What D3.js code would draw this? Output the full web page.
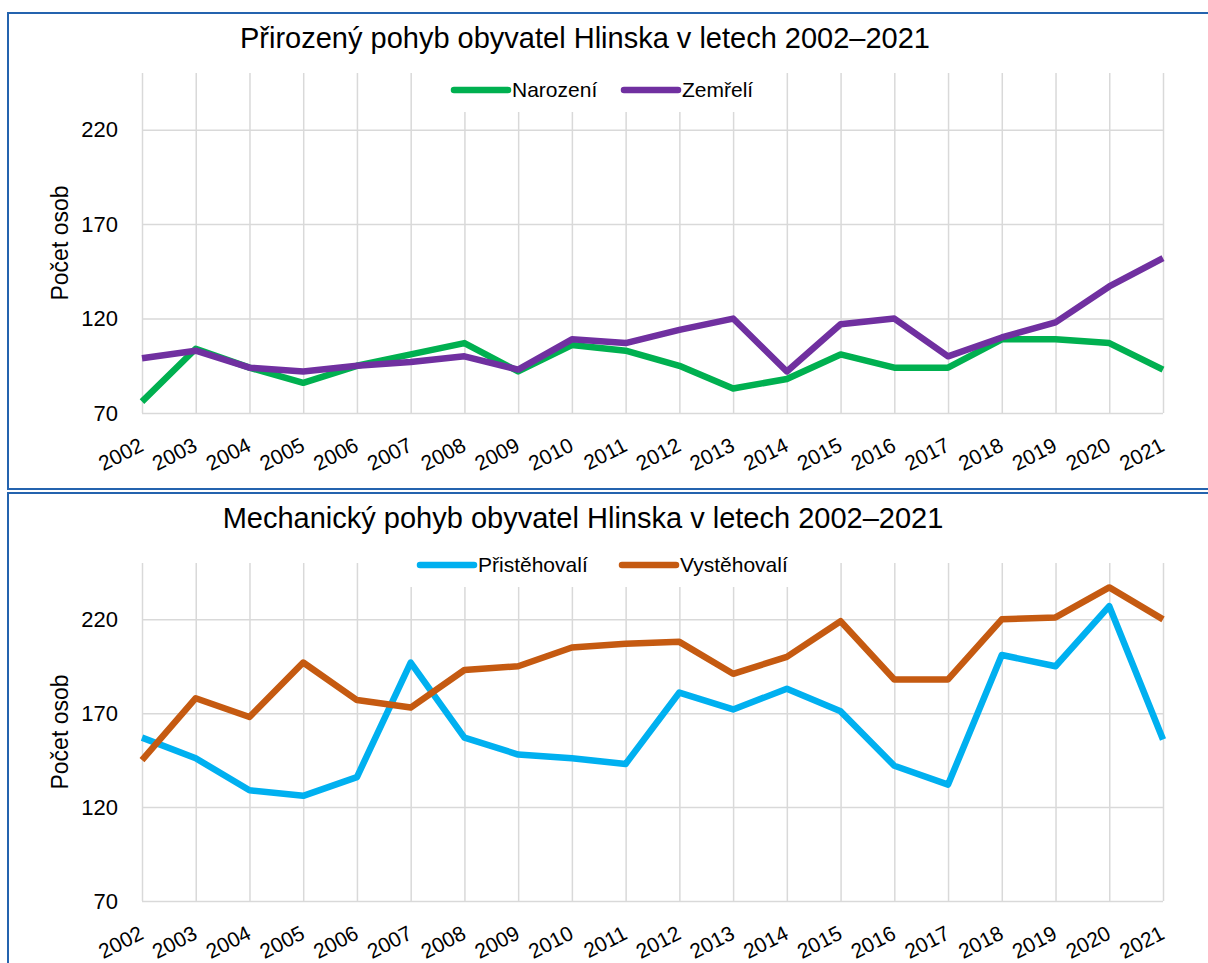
<!DOCTYPE html>
<html>
<head>
<meta charset="utf-8">
<script src="https://cdn.jsdelivr.net/npm/d3@7"></script>
<style>
  body { margin: 0; background: #fff; }
  text { font-family: "Liberation Sans", Arial, sans-serif; fill: #000; }
  .grade line { stroke: #d9d9d9; stroke-width: 1.5; }
  .grade .domain { display: none; }
  .linha { fill: none; stroke-width: 6.5; stroke-linejoin: round; }
</style>
</head>
<body>
<svg id="graf"></svg>
<script>
// Data
var roky = ['2002','2003','2004','2005','2006','2007','2008','2009','2010','2011',
            '2012','2013','2014','2015','2016','2017','2018','2019','2020','2021'];
var narozeni     = [76, 104, 94, 86, 95, 101, 107, 92, 106, 103, 95, 83, 88, 101, 94, 94, 109, 109, 107, 93];
var zemreli      = [99, 103, 94, 92, 95, 97, 100, 93, 109, 107, 114, 120, 92, 117, 120, 100, 110, 118, 137, 152];
var pristehovali = [157, 146, 129, 126, 136, 197, 157, 148, 146, 143, 181, 172, 183, 171, 142, 132, 201, 195, 227, 156];
var vystehovali  = [145, 178, 168, 197, 177, 173, 193, 195, 205, 207, 208, 191, 200, 219, 188, 188, 220, 221, 237, 220];
var osaY = [70, 120, 170, 220];

var svg = d3.select('#graf').attr('width', 1208).attr('height', 963);

function GrafLinii(p) {
    var g = svg.append('g');

    // ramecek grafu
    g.append('rect')
        .attr('x', p.ramecek[0]).attr('y', p.ramecek[1])
        .attr('width', p.ramecek[2]).attr('height', p.ramecek[3])
        .attr('fill', '#fff').attr('stroke', '#2463ae').attr('stroke-width', 2);

    var sirka = 1163 - 142;
    var vyska = p.dole - p.nahore;
    var plot = g.append('g').attr('transform', 'translate(142,' + p.nahore + ')');

    var x = d3.scalePoint().domain(roky).range([0, sirka]);
    var y = d3.scaleLinear().domain([70, 250]).range([vyska, 0]);

    // mrizka
    plot.append('g').classed('grade', true)
        .call(d3.axisRight(y).tickValues(osaY).tickSize(sirka).tickFormat(''));
    plot.append('g').classed('grade', true)
        .attr('transform', 'translate(0,' + vyska + ')')
        .call(d3.axisBottom(x).tickFormat('').tickSizeInner(-vyska).tickSizeOuter(0));

    // osa Y popisky
    var osa = plot.append('g')
        .call(d3.axisLeft(y).tickValues(osaY).tickSize(0).tickPadding(24));
    osa.select('.domain').remove();
    osa.selectAll('text').style('font-size', '22px').style('font-family', '"Liberation Sans", Arial, sans-serif').attr('fill', '#000');

    // osa X popisky
    plot.selectAll('.rok').data(roky).enter()
        .append('text')
        .classed('rok', true)
        .attr('text-anchor', 'end')
        .style('font-size', '21px')
        .attr('transform', d => 'translate(' + (x(d) + 3) + ',' + (vyska + 37) + ') rotate(-27)')
        .text(d => d);

    // nazev osy Y
    plot.append('text')
        .attr('text-anchor', 'middle')
        .style('font-size', '23px')
        .attr('transform', 'translate(-74,' + vyska / 2 + ') rotate(-90)')
        .text('Počet osob');

    // legenda
    var leg = g.append('g');
    leg.append('rect')
        .attr('x', p.legenda.x0).attr('y', p.legenda.y0)
        .attr('width', p.legenda.x1 - p.legenda.x0).attr('height', p.legenda.y1 - p.legenda.y0)
        .attr('fill', '#fff');
    p.serie.forEach(function(s, i) {
        var lx = p.legenda.polozky[i];
        leg.append('line')
            .attr('x1', lx).attr('x2', lx + 54)
            .attr('y1', p.legenda.y).attr('y2', p.legenda.y)
            .attr('stroke', s.barva).attr('stroke-width', 6.5).attr('stroke-linecap', 'round');
        leg.append('text')
            .attr('x', lx + 58).attr('y', p.legenda.y + 7)
            .style('font-size', '21px')
            .text(s.nazev);
    });

    // nazev grafu
    g.append('text')
        .attr('x', p.titulX).attr('y', p.titulY)
        .attr('text-anchor', 'middle')
        .style('font-size', '29px')
        .text(p.titul);

    // linie
    var linie = d3.line()
        .x((d, i) => x(roky[i]))
        .y(d => y(d));
    p.serie.forEach(function(s) {
        plot.append('path')
            .datum(s.hodnoty)
            .classed('linha', true)
            .attr('stroke', s.barva)
            .attr('d', linie);
    });
}

new GrafLinii({
    ramecek: [8, 13, 1205, 476],
    nahore: 73, dole: 413,
    titul: 'Přirozený pohyb obyvatel Hlinska v letech 2002–2021',
    titulX: 585, titulY: 48,
    legenda: { x0: 425, x1: 770, y0: 64, y1: 112, y: 90, polozky: [454, 624] },
    serie: [
        { nazev: 'Narození', hodnoty: narozeni, barva: '#00b050' },
        { nazev: 'Zemřelí', hodnoty: zemreli, barva: '#7030a0' }
    ]
});

new GrafLinii({
    ramecek: [8, 493, 1215, 480],
    nahore: 563, dole: 901,
    titul: 'Mechanický pohyb obyvatel Hlinska v letech 2002–2021',
    titulX: 583, titulY: 528,
    legenda: { x0: 400, x1: 812, y0: 548, y1: 587, y: 565, polozky: [420, 622] },
    serie: [
        { nazev: 'Přistěhovalí', hodnoty: pristehovali, barva: '#00b0f0' },
        { nazev: 'Vystěhovalí', hodnoty: vystehovali, barva: '#c55a11' }
    ]
});
</script>
</body>
</html>
